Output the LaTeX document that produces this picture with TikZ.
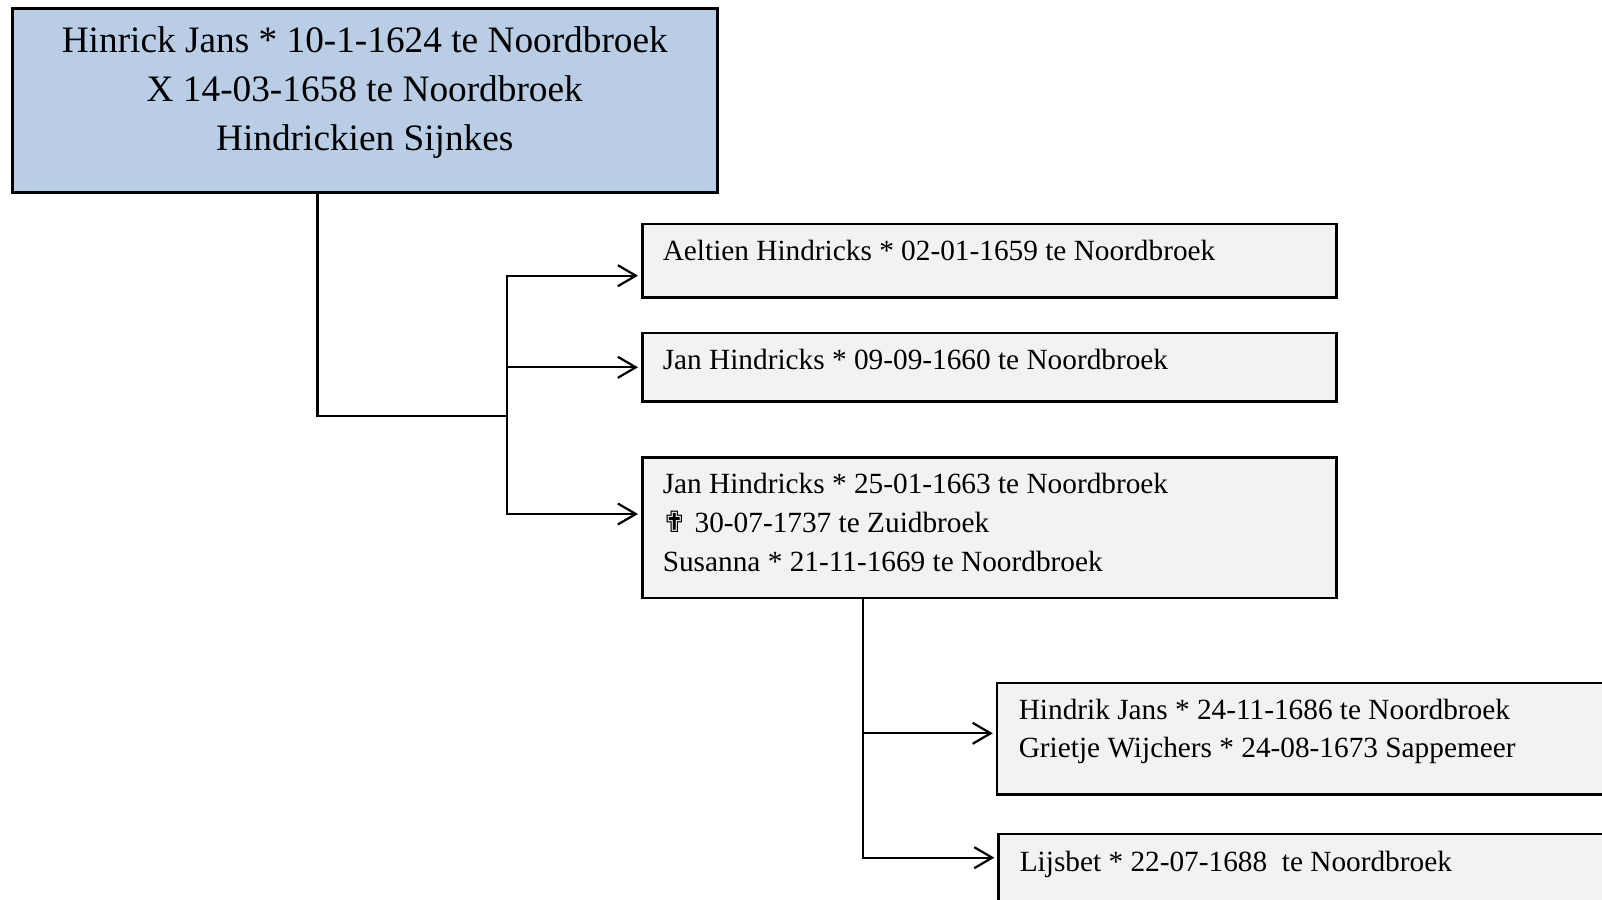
\documentclass[tikz,border=0pt]{standalone}
\usepackage{fontspec}
\setmainfont{Liberation Serif}
\newfontfamily\symfont{DejaVu Sans}
\usetikzlibrary{arrows.meta}
\definecolor{kopblauw}{HTML}{B9CDE5}
\definecolor{kindgrijs}{HTML}{F2F2F2}

\begin{document}
\begin{tikzpicture}[x=1pt,y=-1pt]
   \tikzstyle{kop} = [rectangle, draw=black, line width=1.3pt, fill=kopblauw, anchor=north west, inner sep=0pt]
   \tikzstyle{kind} = [rectangle, draw=black, line width=1.3pt, fill=kindgrijs, anchor=north west, inner sep=0pt, minimum width=347pt]
   \tikzstyle{tekst} = [anchor=base west, inner sep=0pt, align=left, font=\fontsize{14.65}{19.5}\selectfont]
   \tikzstyle{lijn} = [line width=1.1pt]
   \tikzstyle{pijl} = [lijn, -{Straight Barb[length=9pt,width=10.5pt]}, shorten >=1.5pt]
   \tikzstyle{pijlen} = [lijn, {Straight Barb[length=9pt,width=10.5pt]}-{Straight Barb[length=9pt,width=10.5pt]}, shorten <=1.5pt, shorten >=1.5pt]

   \useasboundingbox (0,0) rectangle (801,450);

      \draw
        (5.5, 3.5) node[kop, minimum width=352.5pt, minimum height=92pt] (hinrick){}
        (320.5, 111.3) node[kind, minimum height=36.9pt] (aeltien){}
        (320.5, 165.9) node[kind, minimum height=34.1pt] (jan1){}
        (320.5, 228) node[kind, minimum height=70.3pt] (jan2){}
        (497.9, 340.9) node[kind, minimum width=330pt, minimum height=55.8pt] (hindrik){}
        (498.7, 416.4) node[kind, minimum width=330pt, minimum height=60pt] (lijsbet){};

  % teksten in de vakken (base = laatste regel)
  \node[tekst, anchor=base, align=center, font=\fontsize{18.65}{24.5}\selectfont] (hinrick-t) at ([shift={(0,71.5)}]hinrick.north) {Hinrick Jans * 10-1-1624 te Noordbroek\\X 14-03-1658 te Noordbroek\\Hindrickien Sijnkes};
  \node[tekst] (aeltien-t) at ([shift={(10.7,19.05)}]aeltien.north west) {Aeltien Hindricks * 02-01-1659 te Noordbroek};
  \node[tekst] (jan1-t) at ([shift={(10.7,18.7)}]jan1.north west) {Jan Hindricks * 09-09-1660 te Noordbroek};
  \node[tekst] (jan2-t) at ([shift={(10.7,57.8)}]jan2.north west) {Jan Hindricks * 25-01-1663 te Noordbroek\\{\symfont ✟} 30-07-1737 te Zuidbroek\\Susanna * 21-11-1669 te Noordbroek};
  \node[tekst, font=\fontsize{14.65}{19.15}\selectfont] (hindrik-t) at ([shift={(11.3,37.75)}]hindrik.north west) {Hindrik Jans * 24-11-1686 te Noordbroek\\Grietje Wijchers * 24-08-1673 Sappemeer};
  \node[tekst] (lijsbet-t) at ([shift={(11,19.45)}]lijsbet.north west) {Lijsbet * 22-07-1688\ \ te Noordbroek};

  \coordinate (knik) at (158.75, 207.85);
  \coordinate (stam) at (253.5, 207.85);
  \coordinate (a1) at (253.5, 137.85);
  \coordinate (a2) at (253.5, 183.65);
  \coordinate (a3) at (253.5, 257);
  \coordinate (b1) at (431.5, 366.65);
  \coordinate (b2) at (431.5, 428.85);

  \begin{scope}
    \draw[lijn] (hinrick.south -| knik) -- (knik) -- (stam);
    \draw[pijlen] (a1 -| aeltien.west) -- (a1) -- (a3) -- (a3 -| jan2.west);
    \draw[pijl] (a2) -- (a2 -| jan1.west);
    \draw[pijl] (jan2.south -| b2) -- (b2) -- (b2 -| lijsbet.west);
    \draw[pijl] (b1) -- (b1 -| hindrik.west);
  \end{scope}
\end{tikzpicture}
\end{document}
